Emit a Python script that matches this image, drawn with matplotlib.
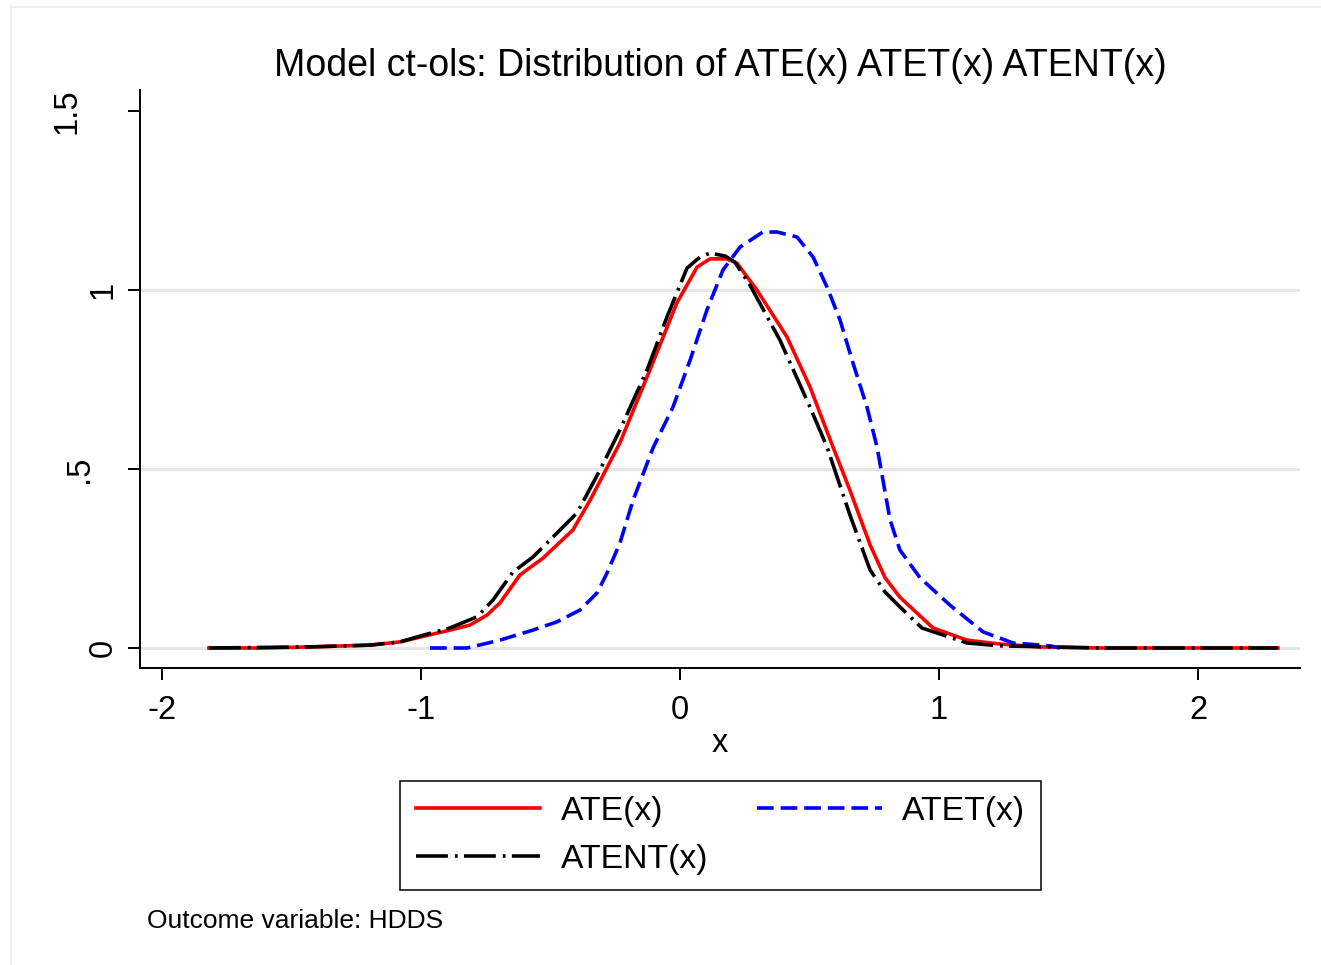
import numpy as np
import matplotlib
matplotlib.use("Agg")
import matplotlib.pyplot as plt
from matplotlib.lines import Line2D

plt.rcParams["font.family"] = ["Liberation Sans", "DejaVu Sans"]
plt.rcParams["lines.scale_dashes"] = False

# density estimates
ate_x = [-1.819, -1.622, -1.429, -1.197, -1.081, -1.0, -0.888, -0.811, -0.745, -0.695,
         -0.618, -0.529, -0.413, -0.347, -0.232, -0.116, -0.012, 0.066, 0.116, 0.181,
         0.22, 0.297, 0.413, 0.502, 0.591, 0.656, 0.734, 0.792, 0.849, 0.977,
         1.108, 1.236, 1.39, 1.622, 2.309]
ate_y = [0.0, 0.0, 0.003, 0.008, 0.017, 0.031, 0.05, 0.064, 0.092, 0.126,
         0.204, 0.251, 0.33, 0.413, 0.573, 0.777, 0.964, 1.064, 1.087, 1.087,
         1.075, 1.0, 0.869, 0.729, 0.561, 0.441, 0.288, 0.196, 0.142, 0.056,
         0.022, 0.011, 0.003, 0.0, 0.0]

atet_x = [-0.965, -0.822, -0.695, -0.568, -0.475, -0.386, -0.32, -0.282, -0.232, -0.181,
          -0.104, -0.027, 0.039, 0.104, 0.166, 0.232, 0.32, 0.375, 0.452, 0.514,
          0.568, 0.618, 0.668, 0.722, 0.761, 0.811, 0.849, 0.927, 1.042, 1.17,
          1.286, 1.429, 1.467]
atet_y = [0.0, 0.0, 0.022, 0.05, 0.073, 0.106, 0.154, 0.209, 0.293, 0.413,
          0.559, 0.673, 0.804, 0.944, 1.056, 1.12, 1.162, 1.162, 1.148, 1.092,
          1.008, 0.916, 0.796, 0.673, 0.561, 0.358, 0.274, 0.196, 0.12, 0.045,
          0.014, 0.006, 0.0]

atent_x = [-1.819, -1.429, -1.197, -1.081, -1.0, -0.888, -0.784, -0.722, -0.645, -0.568,
           -0.475, -0.398, -0.309, -0.232, -0.127, -0.05, 0.027, 0.077, 0.116, 0.174,
           0.212, 0.27, 0.386, 0.502, 0.568, 0.656, 0.734, 0.792, 0.849, 0.934,
           1.108, 1.236, 1.622, 2.309]
atent_y = [0.0, 0.003, 0.008, 0.017, 0.034, 0.056, 0.087, 0.134, 0.212, 0.254,
           0.321, 0.377, 0.497, 0.609, 0.777, 0.925, 1.061, 1.092, 1.103, 1.095,
           1.078, 1.014, 0.86, 0.673, 0.561, 0.372, 0.218, 0.156, 0.115, 0.056,
           0.014, 0.006, 0.0, 0.0]

xticks = [-2, -1, 0, 1, 2]
yticks = [0, 0.5, 1, 1.5]
ylabels = ["0", ".5", "1", "1.5"]
grid_y = [0, 0.5, 1]

fig = plt.figure(figsize=(13.21, 9.65), dpi=100)
ax = fig.add_axes([140 / 1321, 297 / 965, 1160 / 1321, 578 / 965])

for g in grid_y:
    ax.axhline(g, color="#e6e6e6", lw=2.2, zorder=0)

l1, = ax.plot(ate_x, ate_y, color="red", lw=2.6, label="ATE(x)")
l2, = ax.plot(atet_x, atet_y, color="blue", lw=2.6, dashes=(12, 5), label="ATET(x)")
l3, = ax.plot(atent_x, atent_y, color="black", lw=2.6, dashes=(23, 5, 2, 4.5),
              label="ATENT(x)")

ax.set_xlim(-2.085, 2.394)
ax.set_ylim(-0.0559, 1.5587)
for s in ["top", "right"]:
    ax.spines[s].set_visible(False)
for s in ["left", "bottom"]:
    ax.spines[s].set_linewidth(1.4)

ax.set_xticks(xticks)
ax.set_xticklabels([str(t) for t in xticks])
ax.tick_params(axis="x", length=8.6, width=1.4, labelsize=23.5, pad=11)
ax.set_yticks(yticks)
ax.set_yticklabels([])
ax.tick_params(axis="y", length=8.6, width=1.4)

# Stata staggers the rotated y labels
label_x = [-0.032, -0.052, -0.032, -0.0625]
for yv, txt, lx in zip(yticks, ylabels, label_x):
    ax.text(lx, yv, txt, transform=ax.get_yaxis_transform(), rotation=90,
            ha="center", va="center", fontsize=23.5)

ax.set_xlabel("x", fontsize=23.5, labelpad=1)
ax.set_title("Model ct-ols: Distribution of ATE(x) ATET(x) ATENT(x)",
             fontsize=27, pad=10)

leg = fig.legend([l1, l3, l2], ["ATE(x)", "ATENT(x)", "ATET(x)"], ncol=2,
                 loc="center", bbox_to_anchor=(720.5 / 1321, 1 - 835.5 / 965),
                 fontsize=24.3, handlelength=3.7, handletextpad=0.6,
                 columnspacing=1.45, labelspacing=0.5, borderpad=0.45,
                 fancybox=False, framealpha=1)
leg.get_frame().set_edgecolor("black")
leg.get_frame().set_linewidth(1.1)

fig.text(147 / 1321, 1 - 928 / 965, "Outcome variable: HDDS", fontsize=19,
         va="baseline", ha="left")

# light outer border (top and left only visible)
fig.add_artist(Line2D([10.5 / 1321, 10.5 / 1321], [0, 1 - 6 / 965],
                      transform=fig.transFigure, color="#eeeeee", lw=1.5))
fig.add_artist(Line2D([10 / 1321, 1], [1 - 6.5 / 965, 1 - 6.5 / 965],
                      transform=fig.transFigure, color="#eeeeee", lw=1.5))

fig.savefig("out.png", dpi=100)
